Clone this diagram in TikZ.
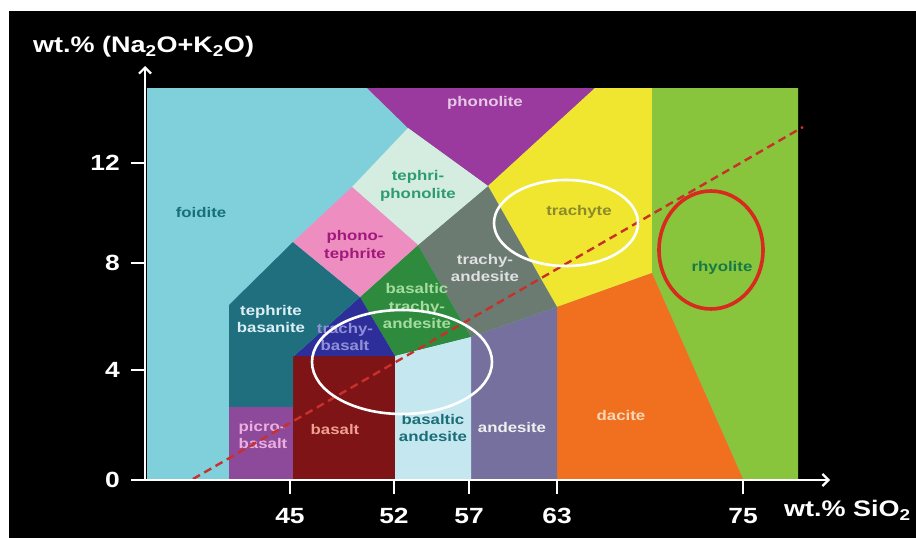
\documentclass[tikz,border=0pt]{standalone}
\usepackage{fontspec}
\setmainfont{Liberation Sans}[FakeStretch=1.2]
\usetikzlibrary{arrows.meta}
\definecolor{cFoid}{HTML}{80D0DC}
\definecolor{cPhon}{HTML}{9B3A9E}
\definecolor{cTphon}{HTML}{D5EDE0}
\definecolor{cPteph}{HTML}{EE8EC0}
\definecolor{cTbas}{HTML}{1F6F7E}
\definecolor{cTand}{HTML}{6B7B72}
\definecolor{cBtand}{HTML}{2E8B3E}
\definecolor{cTbasalt}{HTML}{2E2E9A}
\definecolor{cBasalt}{HTML}{7E1416}
\definecolor{cPicro}{HTML}{8E4A9A}
\definecolor{cBand}{HTML}{C5E8F0}
\definecolor{cAnd}{HTML}{76709E}
\definecolor{cDac}{HTML}{F07020}
\definecolor{cTrach}{HTML}{F0E630}
\definecolor{cRhy}{HTML}{88C43C}
\definecolor{cDash}{HTML}{C8302A}
\definecolor{cRing}{HTML}{D82A1E}
\definecolor{tFoid}{HTML}{16707A}
\definecolor{tPhon}{HTML}{E6C8E6}
\definecolor{tTphon}{HTML}{2C9C70}
\definecolor{tPteph}{HTML}{A0187C}
\definecolor{tTand}{HTML}{E0E0E0}
\definecolor{tBtand}{HTML}{A6DCA0}
\definecolor{tTbasalt}{HTML}{9090D8}
\definecolor{tTbas}{HTML}{DDEFF5}
\definecolor{tPicro}{HTML}{EBB0E0}
\definecolor{tBasalt}{HTML}{F0A090}
\definecolor{tBand}{HTML}{1B6E78}
\definecolor{tAnd}{HTML}{F0F0F0}
\definecolor{tDac}{HTML}{F8D8B8}
\definecolor{tTrach}{HTML}{8A8A2A}
\definecolor{tRhy}{HTML}{177A45}
\begin{document}
\begin{tikzpicture}[x=1pt,y=-1pt,
  lab/.style={font=\fontsize{14}{17.5}\selectfont\bfseries, align=center, inner sep=0pt},
  ticklab/.style={font=\fontsize{22}{26}\selectfont\bfseries, text=white, inner sep=0pt},
  axtitle/.style={font=\fontsize{22.5}{26}\selectfont\bfseries, text=white, inner sep=0pt, anchor=west},
  axisline/.style={white, line width=2.2pt},
  tickline/.style={white, line width=2pt},
  ring/.style={white, line width=2.6pt},
  redring/.style={cRing, line width=3.6pt},
  dashline/.style={cDash, line width=2.4pt, dash pattern=on 8pt off 5pt}]
\useasboundingbox (0,0) rectangle (916,538);
\fill[white] (0,0) rectangle (916,538);
\fill[black] (9,11) rectangle (916,538);
% regions
\fill[cFoid] (147,88) rectangle (798,479);
\fill[cPhon] (367,88) -- (595,88) -- (488,186) -- (408,128) -- cycle;
\fill[cTrach] (595,88) -- (652,88) -- (652,273) -- (557,307) -- (488,186) -- cycle;
\fill[cRhy] (652,88) -- (798,88) -- (798,479) -- (743,479) -- (652,273) -- cycle;
\fill[cDac] (557,307) -- (652,273) -- (743,479) -- (557,479) -- cycle;
\fill[cAnd] (471,337) -- (557,307) -- (557,479) -- (471,479) -- cycle;
\fill[cTand] (488,186) -- (557,307) -- (471,337) -- (418,245) -- cycle;
\fill[cBtand] (418,245) -- (471,337) -- (395,356) -- (360,297) -- cycle;
\fill[cBand] (395,356) -- (471,337) -- (471,479) -- (395,479) -- cycle;
\fill[cBasalt] (293,356) rectangle (395,479);
\fill[cTbasalt] (360,297) -- (395,356) -- (294,356) -- cycle;
\fill[cTbas] (229,305) -- (293,242) -- (360,297) -- (294,356) -- (293,356) -- (293,407) -- (229,407) -- cycle;
\fill[cPicro] (229,407) rectangle (293,479);
\fill[cTphon] (352,187) -- (408,128) -- (488,186) -- (418,245) -- cycle;
\fill[cPteph] (293,242) -- (352,187) -- (418,245) -- (360,297) -- cycle;
% labels
\node[lab, text=tFoid] (foidite) at (201,212) {foidite};
\node[lab, text=tPhon] (phonolite) at (485,103) {phonolite};
\node[lab, text=tTphon] (tephriphonolite) at (418,186) {tephri-\\phonolite};
\node[lab, text=tPteph] (phonotephrite) at (355,246) {phono-\\tephrite};
\node[lab, text=tTand] (trachyandesite) at (485,268) {trachy-\\andesite};
\node[lab, text=tBtand] (btrachyandesite) at (417,306) {basaltic\\trachy-\\andesite};
\node[lab, text=tTbasalt] (trachybasalt) at (345,337) {trachy-\\basalt};
\node[lab, text=tTbas] (tephritebasanite) at (271,319) {tephrite\\basanite};
\node[lab, text=tPicro, align=left] (picrobasalt) at (263,435) {picro-\\basalt};
\node[lab, text=tBasalt] (basalt) at (335,429) {basalt};
\node[lab, text=tBand] (basalticandesite) at (433,428) {basaltic\\andesite};
\node[lab, text=tAnd] (andesite) at (512,427) {andesite};
\node[lab, text=tDac] (dacite) at (621,415) {dacite};
\node[lab, text=tTrach] (trachyte) at (579,212) {trachyte};
\node[lab, text=tRhy] (rhyolite) at (722,268) {rhyolite};
% dashed line
\coordinate (dashA) at (193,479);
\coordinate (dashB) at (803,127);
\draw[dashline] (dashA) -- (dashB);
% rings
\draw[ring] (402,362) ellipse [x radius=90, y radius=52];
\draw[ring] (566,223) ellipse [x radius=72, y radius=43];
\draw[redring] (711,250) ellipse [x radius=52, y radius=59];
% axes
\coordinate (origin) at (145,480);
\coordinate (ytip) at (145,66);
\coordinate (xtip) at (830,480);
\draw[axisline, -{Straight Barb[length=6pt,width=12pt,line width=2.2pt]}] (origin) -- (ytip);
\draw[axisline, -{Straight Barb[length=6pt,width=12pt,line width=2.2pt]}] (origin) -- (xtip);
% y ticks
\foreach \yy/\tl in {163/12, 263/8, 370/4, 480/0} {
  \draw[tickline] (131,\yy) -- (145,\yy);
  \node[ticklab, anchor=east] (yt\tl) at (120,\yy) {\tl};
}
% x ticks
\foreach \xx/\tl in {290/45, 394/52, 469/57, 557/63, 743/75} {
  \draw[tickline] (\xx,480) -- (\xx,494);
  \node[ticklab] (xt\tl) at (\xx,516) {\tl};
}
\node[axtitle] (ytitle) at (33,47) {wt.\% (Na\textsubscript{2}O+K\textsubscript{2}O)};
\node[axtitle] (xtitle) at (784,510) {wt.\% SiO\textsubscript{2}};
\end{tikzpicture}
\end{document}
